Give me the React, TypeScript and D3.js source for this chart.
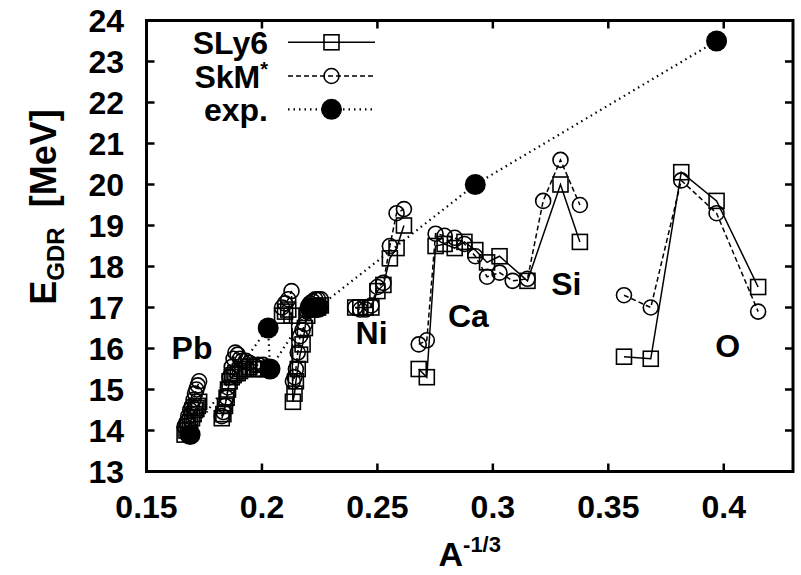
import React from 'react';
import * as d3 from 'd3';

// ---------- axis ticks ----------
const X_TICKS = [0.15, 0.2, 0.25, 0.3, 0.35, 0.4];
const X_TICK_LABELS = ['0.15', '0.2', '0.25', '0.3', '0.35', '0.4'];
const Y_TICKS = [13, 14, 15, 16, 17, 18, 19, 20, 21, 22, 23, 24];
const Y_TICK_LABELS = ['13', '14', '15', '16', '17', '18', '19', '20', '21', '22', '23', '24'];

// ---------- SLy6 (solid, open squares) ----------
const SLY6_PB_X = [0.1665, 0.1673, 0.1681, 0.1689, 0.1697, 0.1704, 0.171, 0.1716, 0.1722, 0.1728];
const SLY6_PB_Y = [13.9, 14.0, 14.1, 14.2, 14.3, 14.4, 14.5, 14.55, 14.6, 14.7];
const SLY6_G2_X = [0.1826, 0.1833, 0.184, 0.1847, 0.1853, 0.186, 0.1869, 0.1877, 0.1885, 0.1895, 0.1905, 0.1915, 0.193, 0.1945, 0.1965, 0.1985, 0.2005, 0.2027];
const SLY6_G2_Y = [14.3, 14.4, 14.6, 14.8, 15.0, 15.2, 15.3, 15.35, 15.4, 15.4, 15.45, 15.5, 15.5, 15.55, 15.5, 15.5, 15.5, 15.5];
const SLY6_G3_X = [0.2087, 0.21, 0.2114, 0.2128, 0.2134, 0.2141, 0.2147, 0.2155, 0.2165, 0.2176, 0.2186, 0.2196, 0.2208, 0.222, 0.2231, 0.2243, 0.2255];
const SLY6_G3_Y = [16.8, 16.9, 16.95, 16.8, 14.7, 14.9, 15.2, 15.5, 15.85, 16.1, 16.5, 16.8, 16.95, 17.0, 17.0, 17.0, 17.05];
const SLY6_NI_X = [0.2404, 0.2426, 0.2449, 0.2474, 0.25, 0.2526, 0.2554, 0.2583, 0.2615];
const SLY6_NI_Y = [17.0, 17.0, 17.0, 17.0, 17.4, 17.55, 18.2, 18.45, 19.0];
const SLY6_CASI_X = [0.2679, 0.2714, 0.2752, 0.2791, 0.2835, 0.2877, 0.2924, 0.2975, 0.3029, 0.315, 0.3293, 0.3377];
const SLY6_CASI_Y = [15.5, 15.3, 18.5, 18.55, 18.45, 18.6, 18.4, 18.1, 18.25, 17.65, 20.0, 18.6];
const SLY6_O_X = [0.3568, 0.3684, 0.3816, 0.3969, 0.4149];
const SLY6_O_Y = [15.8, 15.75, 20.3, 19.6, 17.5];

// ---------- SkM* (dashed, open circles) ----------
const SKM_PB_X = [0.1665, 0.1673, 0.1681, 0.1689, 0.1697, 0.1704, 0.171, 0.1716, 0.1722, 0.1728];
const SKM_PB_Y = [14.1, 14.2, 14.35, 14.5, 14.6, 14.75, 14.9, 15.0, 15.1, 15.2];
const SKM_G2_X = [0.1826, 0.1833, 0.184, 0.1847, 0.1853, 0.186, 0.1869, 0.1877, 0.1885, 0.1895, 0.1905, 0.1915, 0.193, 0.1945, 0.1965, 0.1985, 0.2005, 0.2027];
const SKM_G2_Y = [14.35, 14.45, 14.6, 14.8, 15.05, 15.3, 15.55, 15.75, 15.9, 15.85, 15.75, 15.7, 15.7, 15.65, 15.6, 15.6, 15.6, 15.55];
const SKM_G3_X = [0.2087, 0.21, 0.2114, 0.2128, 0.2134, 0.2141, 0.2147, 0.2155, 0.2165, 0.2176, 0.2186, 0.2196, 0.2208, 0.222, 0.2231, 0.2243, 0.2255];
const SKM_G3_Y = [17.0, 17.1, 17.2, 17.4, 15.2, 15.3, 15.5, 15.9, 16.3, 16.45, 16.6, 16.9, 17.1, 17.15, 17.2, 17.2, 17.2];
const SKM_NI_X = [0.2404, 0.2426, 0.2449, 0.2474, 0.25, 0.2526, 0.2554, 0.2583, 0.2615];
const SKM_NI_Y = [17.0, 16.95, 16.95, 17.05, 17.5, 17.6, 18.5, 19.3, 19.4];
const SKM_CASI_X = [0.2679, 0.2714, 0.2752, 0.2791, 0.2835, 0.2877, 0.2924, 0.2975, 0.3029, 0.3086, 0.315, 0.3218, 0.3293, 0.3377];
const SKM_CASI_Y = [16.1, 16.2, 18.8, 18.75, 18.7, 18.55, 18.25, 17.75, 17.85, 17.65, 17.7, 19.6, 20.6, 19.5];
const SKM_O_X = [0.3568, 0.3684, 0.3816, 0.3969, 0.4149];
const SKM_O_Y = [17.3, 17.0, 20.1, 19.3, 16.9];

// ---------- experiment (dotted, filled circles) ----------
const EXP_X = [0.1689, 0.2027, 0.2035, 0.2208, 0.2243, 0.2924, 0.3969];
const EXP_Y = [13.9, 16.5, 15.5, 17.0, 17.0, 20.0, 23.5];

// ---------- labels ----------
const NUCLEUS_LABELS = ['Pb', 'Ni', 'Ca', 'Si', 'O'];
const NUCLEUS_X = [0.1697, 0.2475, 0.2894, 0.3318, 0.4017];
const NUCLEUS_Y = [15.75, 16.1, 16.52, 17.3, 15.8];
const LEGEND_LABELS = ['SLy6', 'SkM', 'exp.'];

type Pt = [number, number];
const zip = (xs: number[], ys: number[]): Pt[] => xs.map((x, i) => [x, ys[i]]);

const SLY6_GROUPS: Pt[][] = [
  zip(SLY6_PB_X, SLY6_PB_Y), zip(SLY6_G2_X, SLY6_G2_Y), zip(SLY6_G3_X, SLY6_G3_Y),
  zip(SLY6_NI_X, SLY6_NI_Y), zip(SLY6_CASI_X, SLY6_CASI_Y), zip(SLY6_O_X, SLY6_O_Y),
];
const SKM_GROUPS: Pt[][] = [
  zip(SKM_PB_X, SKM_PB_Y), zip(SKM_G2_X, SKM_G2_Y), zip(SKM_G3_X, SKM_G3_Y),
  zip(SKM_NI_X, SKM_NI_Y), zip(SKM_CASI_X, SKM_CASI_Y), zip(SKM_O_X, SKM_O_Y),
];
const EXP_PTS: Pt[] = zip(EXP_X, EXP_Y);

const W = 801;
const H = 575;
const L = 146.5, R = 793, T = 20.5, B = 471.5;
const FONT = '"Liberation Sans", Arial, Helvetica, sans-serif';
const FS = 32;

export default function App() {
  const xs = d3.scaleLinear().domain([0.15, 0.43]).range([L, R]);
  const ys = d3.scaleLinear().domain([13, 24]).range([B, T]);
  const line = d3.line<Pt>().x((d) => xs(d[0])).y((d) => ys(d[1]));
  const SQ = 15;
  const RC = 7.5;
  const RF = 10.5;
  const TICK = 8;

  const square = (cx: number, cy: number, k: string) => (
    <rect key={k} x={cx - SQ / 2} y={cy - SQ / 2} width={SQ} height={SQ} fill="none" stroke="#000" strokeWidth={1.6} />
  );
  const circle = (cx: number, cy: number, k: string) => (
    <circle key={k} cx={cx} cy={cy} r={RC} fill="none" stroke="#000" strokeWidth={1.6} />
  );

  const legendY = [42.3, 76, 109.3];
  const lx0 = 288, lx1 = 375, lxm = 331.5;
  const capOff = FS * 0.36;

  return (
    <svg width={W} height={H} style={{ position: 'absolute', left: 0, top: 0, background: '#fff' }} fontFamily={FONT} fontWeight="bold">
      <rect x={0} y={0} width={W} height={H} fill="#fff" />
      {/* SLy6 */}
      <g>
        {SLY6_GROUPS.map((g, gi) => (
          <path key={'sl' + gi} d={line(g) || ''} fill="none" stroke="#000" strokeWidth={1.5} />
        ))}
        {SLY6_GROUPS.flatMap((g, gi) => g.map((p, i) => square(xs(p[0]), ys(p[1]), `s${gi}-${i}`)))}
      </g>
      {/* SkM* */}
      <g>
        {SKM_GROUPS.map((g, gi) => (
          <path key={'kl' + gi} d={line(g) || ''} fill="none" stroke="#000" strokeWidth={1.5} strokeDasharray="5,3" />
        ))}
        {SKM_GROUPS.flatMap((g, gi) => g.map((p, i) => circle(xs(p[0]), ys(p[1]), `k${gi}-${i}`)))}
      </g>
      {/* exp */}
      <g>
        <path d={line(EXP_PTS) || ''} fill="none" stroke="#000" strokeWidth={2.2} strokeDasharray="1.5,4" />
        {EXP_PTS.map((p, i) => (
          <circle key={'e' + i} cx={xs(p[0])} cy={ys(p[1])} r={RF} fill="#000" />
        ))}
      </g>

      {/* nucleus labels */}
      {NUCLEUS_LABELS.map((t, i) => (
        <text key={t} x={xs(NUCLEUS_X[i])} y={ys(NUCLEUS_Y[i])} fontSize={FS} textAnchor="middle">{t}</text>
      ))}

      {/* frame & ticks */}
      <rect x={L} y={T} width={R - L} height={B - T} fill="none" stroke="#000" strokeWidth={3} />
      {X_TICKS.map((v, i) => (
        <g key={'xt' + i}>
          {i > 0 && <line x1={xs(v)} x2={xs(v)} y1={B} y2={B - TICK} stroke="#000" strokeWidth={2.5} />}
          {i > 0 && <line x1={xs(v)} x2={xs(v)} y1={T} y2={T + TICK} stroke="#000" strokeWidth={2.5} />}
          <text x={xs(v)} y={518} fontSize={FS} textAnchor="middle">{X_TICK_LABELS[i]}</text>
        </g>
      ))}
      {Y_TICKS.map((v, i) => (
        <g key={'yt' + i}>
          {i > 0 && i < Y_TICKS.length - 1 && <line x1={L} x2={L + TICK} y1={ys(v)} y2={ys(v)} stroke="#000" strokeWidth={2.5} />}
          {i > 0 && i < Y_TICKS.length - 1 && <line x1={R} x2={R - TICK} y1={ys(v)} y2={ys(v)} stroke="#000" strokeWidth={2.5} />}
          <text x={124} y={ys(v) + capOff} fontSize={FS} textAnchor="end">{Y_TICK_LABELS[i]}</text>
        </g>
      ))}

      {/* axis titles */}
      <text x={(L + R) / 2} y={566} fontSize={34} textAnchor="middle">
        A<tspan fontSize={22} dy={-14}>-1/3</tspan>
      </text>
      <text transform="translate(56,207) rotate(-90)" fontSize={36} textAnchor="middle">
        E<tspan fontSize={24} dy={8}>GDR</tspan><tspan dy={-8}>{'\u00a0\u00a0'}[MeV]</tspan>
      </text>

      {/* legend */}
      <text x={268} y={legendY[0] + capOff} fontSize={FS} textAnchor="end">{LEGEND_LABELS[0]}</text>
      <line x1={lx0} x2={lx1} y1={legendY[0]} y2={legendY[0]} stroke="#000" strokeWidth={1.5} />
      {square(lxm, legendY[0], 'lg0')}
      <text x={268} y={legendY[1] + capOff} fontSize={FS} textAnchor="end">
        {LEGEND_LABELS[1]}<tspan fontSize={20} dy={-12}>*</tspan>
      </text>
      <line x1={lx0} x2={lx1} y1={legendY[1]} y2={legendY[1]} stroke="#000" strokeWidth={1.5} strokeDasharray="5,3" />
      {circle(lxm, legendY[1], 'lg1')}
      <text x={268} y={legendY[2] + capOff} fontSize={FS} textAnchor="end">{LEGEND_LABELS[2]}</text>
      <line x1={lx0} x2={lx1} y1={legendY[2]} y2={legendY[2]} stroke="#000" strokeWidth={2.2} strokeDasharray="1.5,4" />
      <circle cx={lxm} cy={legendY[2]} r={RF} fill="#000" />
    </svg>
  );
}
